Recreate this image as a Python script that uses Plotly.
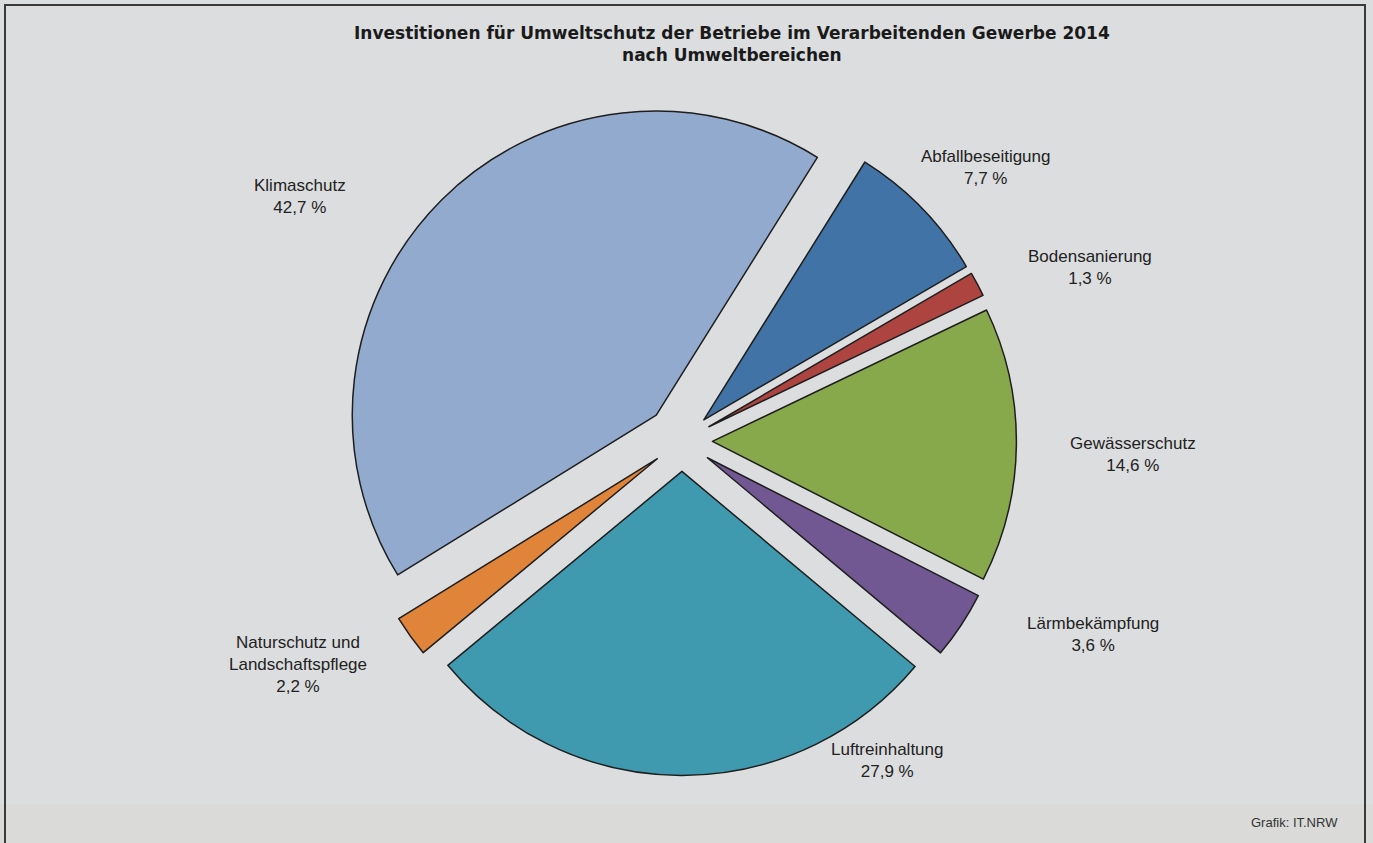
import plotly.graph_objects as go

# ---- data ----
categories = ["Abfallbeseitigung", "Bodensanierung", "Gewässerschutz", "Lärmbekämpfung",
              "Luftreinhaltung", "Naturschutz und<br>Landschaftspflege", "Klimaschutz"]
shares = [7.7, 1.3, 14.6, 3.6, 27.9, 2.2, 42.7]
title_text = "Investitionen für Umweltschutz der Betriebe im Verarbeitenden Gewerbe 2014<br>nach Umweltbereichen"
source_text = "Grafik: IT.NRW"

# ---- styles / layout ----
colors = ["#4173A7", "#AE4440", "#88A84C", "#725892", "#409AAF", "#E0843A", "#93AACF"]
pulls = [0.1, 0.1, 0.1, 0.1, 0.1, 0.1, 0.12]
W, H = 1373, 843
# label anchor positions in pixels (layout only)
label_pos = [(985, 167), (1090, 267), (1133, 454), (1093, 634), (887, 760), (298, 664), (300, 196)]
cx, cy, R = 682, 441, 304
box = 2 * R * (1 + max(pulls))

fig = go.Figure()
fig.add_trace(go.Pie(
    labels=categories, values=shares, sort=False, direction="clockwise", rotation=32,
    pull=pulls, textinfo="none", hoverinfo="label+percent",
    marker=dict(colors=colors, line=dict(color="#1e1e1e", width=1.5)),
    domain=dict(x=[(cx - box / 2) / W, (cx + box / 2) / W],
                y=[1 - (cy + box / 2) / H, 1 - (cy - box / 2) / H]),
    showlegend=False,
))

annotations = []
for cat, v, (px, py) in zip(categories, shares, label_pos):
    txt = f"{cat}<br>{str(v).replace('.', ',')} %"
    annotations.append(dict(x=px / W, y=1 - py / H, xref="paper", yref="paper",
                            text=txt, showarrow=False, xanchor="center", yanchor="middle",
                            font=dict(family="Liberation Sans, Arial", size=17, color="#222222")))
annotations.append(dict(x=732 / W, y=1 - 44 / H, xref="paper", yref="paper", text=f"<b>{title_text}</b>",
                        showarrow=False, xanchor="center", yanchor="middle",
                        font=dict(family="DejaVu Sans", size=17, color="#1a1a1a")))
annotations.append(dict(x=1340 / W, y=1 - 822 / H, xref="paper", yref="paper", text=source_text,
                        showarrow=False, xanchor="right", yanchor="middle",
                        font=dict(family="Liberation Sans, Arial", size=13, color="#333333")))

shapes = [
    dict(type="rect", xref="paper", yref="paper", x0=0, x1=1, y0=-0.1, y1=1 - 804 / H,
         fillcolor="#DADAD8", line=dict(width=0), layer="below"),
    dict(type="rect", xref="paper", yref="paper", x0=5 / W, x1=1365 / W, y0=-0.05, y1=1 - 5 / H,
         fillcolor="rgba(0,0,0,0)", line=dict(color="#3a3a3a", width=2)),
]

fig.update_layout(width=W, height=H, margin=dict(l=0, r=0, t=0, b=0),
                  paper_bgcolor="#DCDDDF", plot_bgcolor="#DCDDDF",
                  annotations=annotations, shapes=shapes)

fig.write_html("out.html", config={"displayModeBar": False},
               post_script="document.body.style.margin='0';")
